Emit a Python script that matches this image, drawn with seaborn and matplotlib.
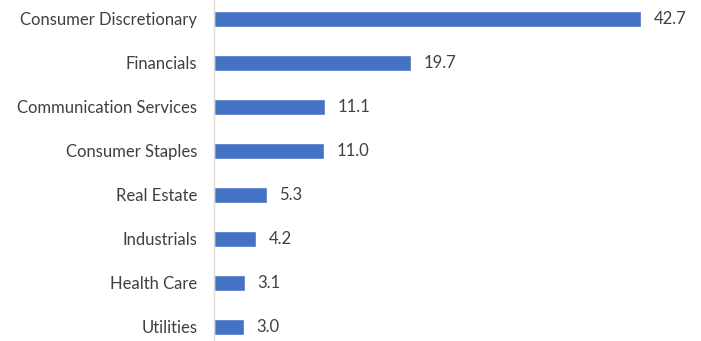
import matplotlib
matplotlib.use("Agg")
import matplotlib.pyplot as plt
import seaborn as sns
import pandas as pd

categories = ["Consumer Discretionary", "Financials", "Communication Services",
              "Consumer Staples", "Real Estate", "Industrials", "Health Care", "Utilities"]
values = [42.7, 19.7, 11.1, 11.0, 5.3, 4.2, 3.1, 3.0]
value_labels = ["42.7", "19.7", "11.1", "11.0", "5.3", "4.2", "3.1", "3.0"]

df = pd.DataFrame({"sector": categories, "value": values})

sns.set_theme(style="white")
plt.rcParams["font.family"] = ["Lato", "DejaVu Sans"]

fig = plt.figure(figsize=(7.01, 3.41), dpi=100)
ax = fig.add_axes([214 / 701, 0, (700 - 214) / 701, 1])

sns.barplot(data=df, x="value", y="sector", color="#4472C4", width=0.36,
            saturation=1, ax=ax, orient="h")

ax.set_xlim(0, 48.55)
ax.set_ylim(7.32, -0.43)
for s in ["top", "right", "bottom"]:
    ax.spines[s].set_visible(False)
ax.spines["left"].set_color("#D9D9D9")
ax.spines["left"].set_linewidth(1)
ax.set_xticks([])
ax.set_xlabel("")
ax.set_ylabel("")
ax.tick_params(axis="y", length=0, pad=12, labelsize=12, labelcolor="#404040")

for container in ax.containers:
    ax.bar_label(container, labels=value_labels, padding=9, fontsize=12, color="#404040")

fig.savefig("out.png", dpi=100)
